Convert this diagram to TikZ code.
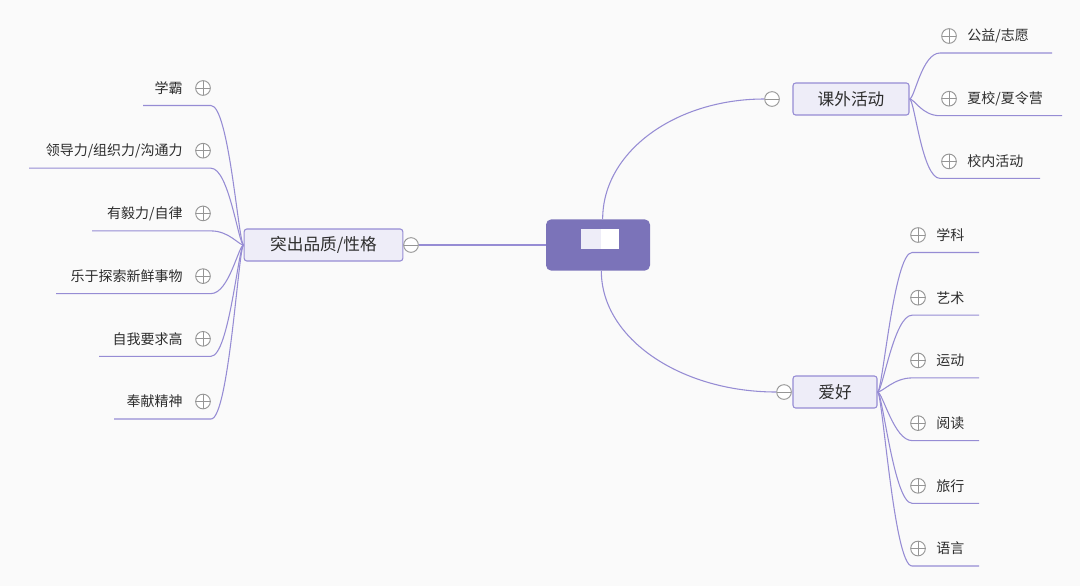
\documentclass[tikz,border=0pt]{standalone}
\usepackage{fontspec}
\newfontfamily\cjk{Noto Sans CJK SC}
\definecolor{linec}{RGB}{150,140,212}
\definecolor{topicfill}{RGB}{238,237,248}
\definecolor{rootc}{RGB}{123,115,185}
\definecolor{btnc}{RGB}{150,150,150}
\definecolor{txtc}{RGB}{45,45,45}
\definecolor{bgc}{RGB}{250,250,250}
\tikzset{
    topic/.style={draw=linec, fill=topicfill, rounded corners=2pt, minimum height=24pt, line width=0.8pt, text=txtc, font=\cjk\fontsize{12.5}{14}\selectfont},
    sub/.style={inner sep=0pt, text=txtc, font=\cjk\fontsize{10.5}{12}\selectfont},
    btn/.style={circle, draw=btnc, fill=white, minimum size=11pt, inner sep=0pt, line width=0.7pt},
    expbtn/.style={btn, path picture={\draw[btnc, line width=0.7pt] (path picture bounding box.north) -- (path picture bounding box.south) (path picture bounding box.west) -- (path picture bounding box.east);}},
    colbtn/.style={btn, path picture={\draw[btnc, line width=0.7pt] (path picture bounding box.west) -- (path picture bounding box.east);}},
    branch/.style={draw=linec, line width=0.8pt}
}
\begin{document}
\begin{tikzpicture}[x=0.75pt, y=-0.75pt]
    \fill[bgc] (0,0) rectangle (1080,586);
    \useasboundingbox (0,0) rectangle (1080,586);

    % Root (text hidden)
    \node[fill=rootc, rounded corners=4pt, minimum width=78pt, minimum height=38.5pt] (root) at (598,245) {};
    \fill[topicfill] (581,229) rectangle (601,249);
    \fill[white] (601,229) rectangle (619,249);

    % Left topic
    \node[topic, minimum width=119pt] (qual) at (323.5,245) {突出品质/性格};
    \node[colbtn] (qc) at (411,245) {};
    \draw[branch] (qc) -- (root.west);
    \foreach \i/\t/\lx in {0/学霸/143, 1/{领导力/组织力/沟通力}/29, 2/{有毅力/自律}/92, 3/乐于探索新鲜事物/56, 4/自我要求高/99, 5/奉献精神/114} {
        \pgfmathsetmacro\ty{88+62.7*\i}
        \node[sub, anchor=east] (qt\i) at (183,\ty) {\t};
        \node[expbtn] (qb\i) at (203,\ty) {};
        \coordinate (qs\i) at (\lx,\ty+17.5);
        \coordinate (qe\i) at (211,\ty+17.5);
        \draw[branch] (qs\i) -- (qe\i) .. controls +(18,0) and +(-5,0) .. (qual.west);
    }

    % Upper right topic
    \node[topic, minimum width=87pt] (act) at (851,99) {课外活动};
    \node[colbtn] (ac) at (772,99) {};
    \draw[branch] ([xshift=3.5pt]root.north) .. controls +(0,-68) and +(-88,0) .. (ac.west);
    \foreach \i/\t/\rx in {0/{公益/志愿}/1052, 1/{夏校/夏令营}/1062, 2/校内活动/1040} {
        \pgfmathsetmacro\ty{36+62.7*\i}
        \node[expbtn] (ab\i) at (949,\ty) {};
        \node[sub, anchor=west] (at\i) at (967,\ty) {\t};
        \coordinate (as\i) at (940,\ty+17);
        \coordinate (ae\i) at (\rx,\ty+17);
        \draw[branch] (act.east) .. controls +(5,0) and +(-18,0) .. (as\i) -- (ae\i);
    }

    % Lower right topic
    \node[topic, minimum width=63pt] (hob) at (835,392) {爱好};
    \node[colbtn] (hc) at (784,392) {};
    \draw[branch] ([xshift=2.5pt]root.south) .. controls +(0,68) and +(-95,0) .. (hc.west);
    \foreach \i/\t in {0/学科, 1/艺术, 2/运动, 3/阅读, 4/旅行, 5/语言} {
        \pgfmathsetmacro\ty{235+62.7*\i}
        \node[expbtn] (hb\i) at (918,\ty) {};
        \node[sub, anchor=west] (ht\i) at (936,\ty) {\t};
        \coordinate (hs\i) at (912,\ty+17.5);
        \coordinate (he\i) at (979,\ty+17.5);
        \draw[branch] (hob.east) .. controls +(5,0) and +(-18,0) .. (hs\i) -- (he\i);
    }
\end{tikzpicture}
\end{document}
